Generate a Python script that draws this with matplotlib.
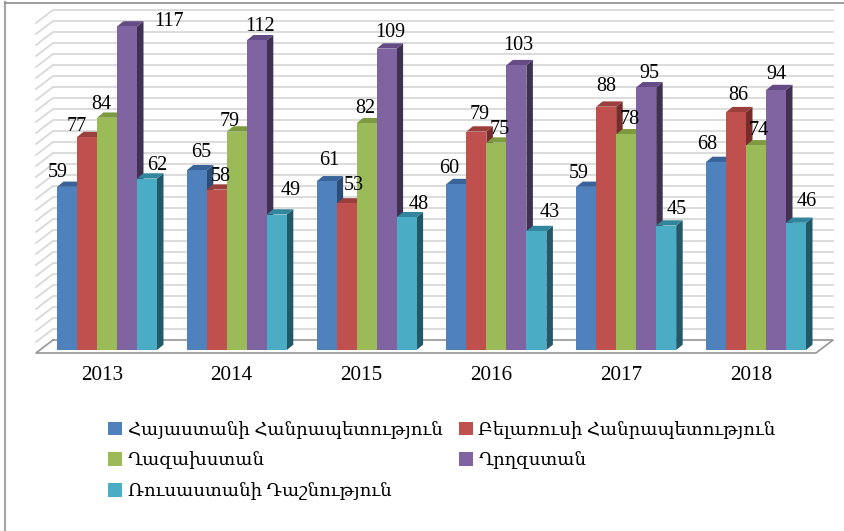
import matplotlib
matplotlib.use("Agg")
import matplotlib.pyplot as plt
import numpy as np
from matplotlib.lines import Line2D

years = ["2013", "2014", "2015", "2016", "2017", "2018"]
series_names = ["Հայաստանի Հանրապետություն", "Բելառուսի Հանրապետություն", "Ղազախստան", "Ղրղզստան", "Ռուսաստանի Դաշնություն"]
armenia = [59, 65, 61, 60, 59, 68]
belarus = [77, 58, 53, 79, 88, 86]
kazakhstan = [84, 79, 82, 75, 78, 74]
kyrgyzstan = [117, 112, 109, 103, 95, 94]
russia = [62, 49, 48, 43, 45, 46]
series = [armenia, belarus, kazakhstan, kyrgyzstan, russia]
front_colors = ["#4f81bd", "#c0504d", "#9bbb59", "#8064a2", "#4bacc6"]
side_colors = ["#2c4d75", "#772c2a", "#5f7530", "#403152", "#215968"]
top_colors = ["#3a6499", "#9a3f3c", "#7d9a40", "#644b86", "#31859c"]

# label offsets in pixels from each bar's top centre, series by series
label_dx = [[-9, 4, 3, -7, -7, -9], [-10, 4, 7, 3, 0, 2], [-6, -7, -1, 3, 3, 3], [42, 3, 4, 2, 3, 0], [10, 14, 12, 13, 10, 11]]
label_dy = [[14, 18, 21, 16, 13, 17], [11, 13, 17.5, 16.6, 20, 17], [13, 10, 15, 13.6, 15, 15], [5, 14, 16.6, 20, 14, 16], [13, 24, 13, 19, 15.6, 21]]

W, H, DPI = 845, 531, 100
PX_X = 129.8      # pixels per category
PX_Y = 2.765      # pixels per value unit
X0, Y0 = 107.0, 350.0   # pixel position of first category centre / value 0
BAR = 20 / PX_X
DX, DY = 6.5 / PX_X, 5.3 / PX_Y

plt.rcParams["font.family"] = ["Liberation Serif", "DejaVu Serif"]
fig = plt.figure(figsize=(W / DPI, H / DPI), dpi=DPI, facecolor="white")
ax = fig.add_axes([0, 0, 1, 1])
ax.set_xlim(-X0 / PX_X, (W - X0) / PX_X)
ax.set_ylim(-(H - Y0) / PX_Y, Y0 / PX_Y)
ax.axis("off")

def px(x, y):
    return (x - X0) / PX_X, (Y0 - y) / PX_Y

# chart area frame (left and top edges)
fig.add_artist(Line2D([5.5 / W, 5.5 / W], [0, 1 - 2 / H], color="#a6a6a6", lw=1.6))
fig.add_artist(Line2D([5 / W, 1], [1 - 2.5 / H, 1 - 2.5 / H], color="#8c8c8c", lw=1.2))

# walls: gridlines on back and left wall
grid_vals = np.arange(4, 121, 4)
for g in grid_vals:
    yb = 340 - 2.75 * g
    x1, y1 = px(36, yb + 13)
    x2, y2 = px(53, yb)
    x3, _ = px(833, yb)
    ax.plot([x1, x2, x3], [y1, y2, y2], color="#d6d6d6", lw=1.2, zorder=1, solid_joinstyle="miter")

# floor
fl = [px(36, 353), px(816, 353), px(833, 340), px(53, 340)]
ax.plot(*zip(fl[3], fl[0], fl[1], fl[2], fl[3]), color="#969696", lw=1.2, zorder=1.5)

x = np.arange(len(years))
handles = []
for j, vals in enumerate(series):
    xc = x + (j - 2) * BAR
    for xi, v in zip(xc, vals):
        r = xi + BAR / 2
        l = xi - BAR / 2
        ax.fill([r, r + DX, r + DX, r], [0, DY, v + DY, v], color=side_colors[j], lw=0, zorder=2 + j)
        ax.fill([l, l + DX, r + DX, r], [v, v + DY, v + DY, v], color=top_colors[j], lw=0, zorder=2 + j)
    bars = ax.bar(xc, vals, width=BAR, color=front_colors[j], lw=0, zorder=2 + j + 0.5)
    handles.append(bars)
    for i, v in enumerate(vals):
        ax.annotate(str(v), (xc[i], v), xytext=(label_dx[j][i] * 72 / DPI, label_dy[j][i] * 72 / DPI),
                    textcoords="offset points", ha="center", va="center", fontsize=14.5,
                    color="#000000", zorder=20)

for i, yr in enumerate(years):
    ax.annotate(yr, (x[i], 0), xytext=(-5.3 * 72 / DPI, -25 * 72 / DPI), textcoords="offset points",
                ha="center", va="center", fontsize=15.2, color="#000000")

order = [0, 2, 4, 1, 3]
leg = ax.legend([handles[k] for k in order], [series_names[k] for k in order], ncol=2,
                loc="upper left", bbox_to_anchor=(108 / W, 1 - 421 / H), bbox_transform=fig.transFigure,
                frameon=False, fontsize=13.1, handlelength=0.78, handleheight=0.78,
                handletextpad=0.3, columnspacing=0.9, labelspacing=0.7, borderpad=0, borderaxespad=0,
                labelcolor="#000000")
fig.savefig("out.png", dpi=DPI, facecolor="white")
